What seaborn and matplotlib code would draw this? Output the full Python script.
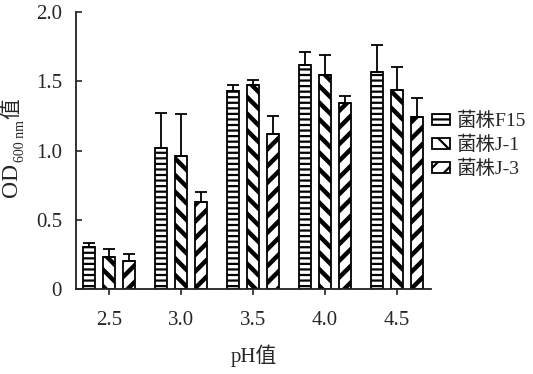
import matplotlib
matplotlib.use("Agg")
import matplotlib.pyplot as plt
import seaborn as sns
import pandas as pd
import numpy as np
from matplotlib.patches import Patch

# ---- data ----
ph_labels = ["2.5", "3.0", "3.5", "4.0", "4.5"]
strains = ["菌株F15", "菌株J-1", "菌株J-3"]
f15_mean = [0.30, 1.02, 1.43, 1.62, 1.57]
f15_err = [0.03, 0.25, 0.04, 0.09, 0.19]
j1_mean = [0.23, 0.96, 1.47, 1.545, 1.44]
j1_err = [0.06, 0.30, 0.04, 0.145, 0.16]
j3_mean = [0.20, 0.63, 1.12, 1.34, 1.24]
j3_err = [0.05, 0.07, 0.13, 0.05, 0.14]
y_ticks = [0, 0.5, 1.0, 1.5, 2.0]
y_ticklabels = ["0", "0.5", "1.0", "1.5", "2.0"]

means = [f15_mean, j1_mean, j3_mean]
errs = [f15_err, j1_err, j3_err]
hatches = ["---", "\\\\", "//"]

rows = []
for s, m in zip(strains, means):
    for p, v in zip(ph_labels, m):
        rows.append({"pH": p, "strain": s, "od": v})
df = pd.DataFrame(rows)

sns.set_style("ticks")
FAM = ["Liberation Serif", "Noto Sans CJK SC"]
plt.rcParams["font.family"] = FAM
plt.rcParams["hatch.color"] = "black"
plt.rcParams["hatch.linewidth"] = 1.6

W, H = 533, 374
fig = plt.figure(figsize=(W / 100, H / 100), dpi=100)
ax = fig.add_axes([76 / W, 1 - 289 / H, (431 - 76) / W, (289 - 12) / H])

sns.barplot(data=df, x="pH", y="od", hue="strain", order=ph_labels,
            hue_order=strains, width=0.83, gap=0.4,
            palette=["white"] * 3, edgecolor="black", linewidth=1.3,
            errorbar=None, legend=False, ax=ax)

for cont, h, e in zip(ax.containers, hatches, errs):
    xs, tops = [], []
    for bar in cont:
        bar.set_hatch(h)
        bar.set_facecolor("white")
        bar.set_edgecolor("black")
        if h != "---" and hasattr(bar, "set_hatch_linewidth"):
            bar.set_hatch_linewidth(3.2)
        xs.append(bar.get_x() + bar.get_width() / 2)
        tops.append(bar.get_height())
    ax.errorbar(xs, tops, yerr=[np.zeros(len(e)), e], fmt="none",
                ecolor="black", elinewidth=1.3, capsize=4, capthick=1.3,
                zorder=1)

ax.set_xlim(-0.46, 4.47)
ax.set_ylim(0, 2.0)
ax.set_yticks(y_ticks)
ax.set_yticklabels(y_ticklabels)
ax.tick_params(axis="y", direction="in", length=4, labelsize=15, pad=10, width=1.2)
ax.tick_params(axis="x", direction="out", length=4, labelsize=15, pad=12, width=1.2)
for sp in ["top", "right"]:
    ax.spines[sp].set_visible(False)
for sp in ["left", "bottom"]:
    ax.spines[sp].set_linewidth(1.3)
    ax.spines[sp].set_color("#222222")

ax.set_xlabel("pH值", fontsize=15, labelpad=10)
ax.set_ylabel("")

# y label: OD with subscript "600 nm" followed by 值 (rotated), chained by measured extents
fig.canvas.draw()
renderer = fig.canvas.get_renderer()
t1 = fig.text(11 / W, 1 - 197 / H, "OD", rotation=90, ha="center", va="bottom",
              fontsize=17, family=FAM)
bb1 = t1.get_window_extent(renderer)
t2 = fig.text(21 / W, (bb1.y1 + 1) / H, "600 nm", rotation=90, ha="center",
              va="bottom", fontsize=10, family=FAM)
bb2 = t2.get_window_extent(renderer)
t3 = fig.text(13 / W, (bb2.y1 + 1) / H, "值", rotation=90, ha="center",
              va="bottom", fontsize=15, family=FAM)

handles = [Patch(facecolor="white", edgecolor="black", hatch=h, linewidth=1.3)
           for h in hatches]
fig.legend(handles, strains, loc="center left", bbox_to_anchor=(432 / W, 1 - 145 / H),
           frameon=False, fontsize=14, handlelength=0.9, handleheight=0.5,
           handletextpad=0.4, labelspacing=0.3, borderaxespad=0, borderpad=0)

fig.savefig("out.png", dpi=100)
